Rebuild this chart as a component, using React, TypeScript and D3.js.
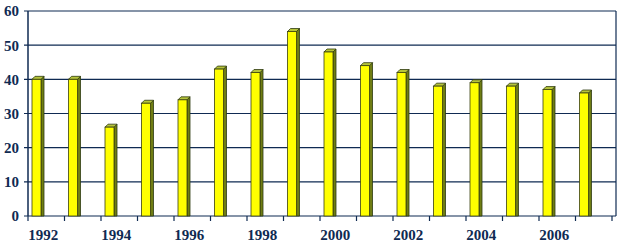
import * as d3 from 'd3';

const years = [1992, 1993, 1994, 1995, 1996, 1997, 1998, 1999, 2000, 2001, 2002, 2003, 2004, 2005, 2006, 2007];
const values = [40, 40, 26, 33, 34, 43, 42, 54, 48, 44, 42, 38, 39, 38, 37, 36];
const yTicks = [0, 10, 20, 30, 40, 50, 60];
const labelYears = [1992, 1994, 1996, 1998, 2000, 2002, 2004, 2006];

const WIDTH = 628;
const HEIGHT = 245;
const PAD = { top: 11, right: 12, bottom: 29, left: 28 };
const INK = '#0f2a52';
const FONT = '"Liberation Serif", "DejaVu Serif", "Times New Roman", serif';

export default function App() {
  const plotRight = 612;
  const boxRight = WIDTH - PAD.right;

  const x = d3
    .scaleBand<string>()
    .domain(years.map(String))
    .range([PAD.left, plotRight])
    .paddingInner(0)
    .paddingOuter(0);

  const y = d3
    .scaleLinear()
    .domain([0, 60])
    .range([HEIGHT - PAD.bottom, PAD.top]);

  const barW = 9;
  const depth = 3;
  const offset = 4;

  return (
    <svg
      width={WIDTH}
      height={HEIGHT}
      style={{ position: 'absolute', left: 0, top: 0, background: '#fff' }}
    >
      {/* frame + gridlines */}
      {yTicks.map(t => (
        <line
          key={`g-${t}`}
          x1={PAD.left - 4}
          x2={boxRight}
          y1={y(t)}
          y2={y(t)}
          stroke={INK}
          strokeWidth={1.2}
        />
      ))}
      <line x1={PAD.left} x2={PAD.left} y1={y(60)} y2={y(0)} stroke={INK} strokeWidth={1.5} />
      <line x1={boxRight} x2={boxRight} y1={y(60)} y2={y(0)} stroke={INK} strokeWidth={1.2} />

      {/* x ticks at category boundaries */}
      {years.map(yr => {
        const bx = x(String(yr)) ?? 0;
        return (
          <line key={`t-${yr}`} x1={bx} x2={bx} y1={y(0)} y2={y(0) + 5} stroke={INK} strokeWidth={1.2} />
        );
      })}
      <line x1={plotRight} x2={plotRight} y1={y(0)} y2={y(0) + 5} stroke={INK} strokeWidth={1.2} />

      {/* bars */}
      {years.map((yr, i) => {
        const x0 = (x(String(yr)) ?? 0) + offset;
        const yTop = y(values[i]);
        const yBase = y(0);
        return (
          <g key={`b-${yr}`}>
            <polygon
              points={`${x0 + barW},${yTop} ${x0 + barW + depth},${yTop - depth} ${x0 + barW + depth},${yBase} ${x0 + barW},${yBase}`}
              fill="#6f7d14"
              stroke="#2d3a10"
              strokeWidth={0.8}
            />
            <polygon
              points={`${x0},${yTop} ${x0 + depth},${yTop - depth} ${x0 + barW + depth},${yTop - depth} ${x0 + barW},${yTop}`}
              fill="#b6c43a"
              stroke="#2d3a10"
              strokeWidth={0.8}
            />
            <rect x={x0} y={yTop} width={barW} height={yBase - yTop} fill="#ffff00" stroke="#3a4010" strokeWidth={0.8} />
          </g>
        );
      })}

      {/* y labels */}
      {yTicks.map(t => (
        <text
          key={`yl-${t}`}
          x={19}
          y={y(t)}
          dy="0.36em"
          textAnchor="end"
          fill={INK}
          style={{ fontFamily: FONT, fontWeight: 'bold', fontSize: 15 }}
        >
          {t}
        </text>
      ))}

      {/* x labels */}
      {labelYears.map(yr => (
        <text
          key={`xl-${yr}`}
          x={(x(String(yr)) ?? 0) + x.bandwidth() / 2 - 3}
          y={240}
          textAnchor="middle"
          fill={INK}
          style={{ fontFamily: FONT, fontWeight: 'bold', fontSize: 15 }}
        >
          {yr}
        </text>
      ))}
    </svg>
  );
}
